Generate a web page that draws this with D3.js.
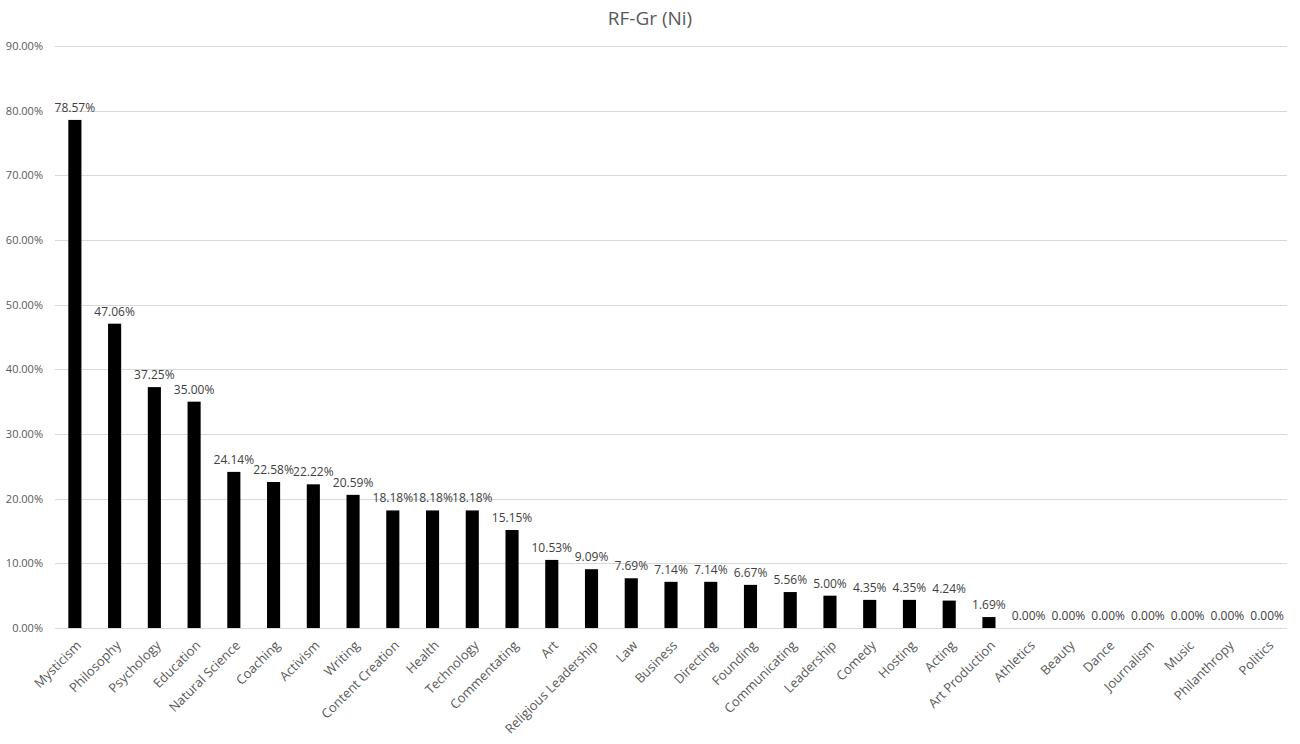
<!DOCTYPE html>
<html>
<head>
<meta charset="utf-8">
<script src="https://cdn.jsdelivr.net/npm/d3@7"></script>
<style>
  body { margin: 0; background: #fff; }
  text { font-family: "Open Sans", "Noto Sans", sans-serif; }
</style>
</head>
<body>
<svg></svg>
<script>
var width = 1300;
var height = 744;

var categories = ["Mysticism", "Philosophy", "Psychology", "Education", "Natural Science",
    "Coaching", "Activism", "Writing", "Content Creation", "Health", "Technology",
    "Commentating", "Art", "Religious Leadership", "Law", "Business", "Directing",
    "Founding", "Communicating", "Leadership", "Comedy", "Hosting", "Acting",
    "Art Production", "Athletics", "Beauty", "Dance", "Journalism", "Music",
    "Philanthropy", "Politics"];
var values = [78.57, 47.06, 37.25, 35.00, 24.14, 22.58, 22.22, 20.59, 18.18, 18.18, 18.18,
    15.15, 10.53, 9.09, 7.69, 7.14, 7.14, 6.67, 5.56, 5.00, 4.35, 4.35, 4.24,
    1.69, 0, 0, 0, 0, 0, 0, 0];
var yTicks = [0, 10, 20, 30, 40, 50, 60, 70, 80, 90];

var margin = { top: 46, right: 13, bottom: 116, left: 55 };

var svg = d3.select('svg')
    .attr('width', width)
    .attr('height', height);

svg.append('text')
    .attr('x', 650)
    .attr('y', 25)
    .attr('text-anchor', 'middle')
    .attr('fill', '#595959')
    .style('font-size', '19px')
    .text('RF-Gr (Ni)');

var x = d3.scaleBand()
    .domain(categories)
    .range([margin.left, width - margin.right])
    .paddingInner(0.67)
    .paddingOuter(0.335);

var y = d3.scaleLinear()
    .domain([0, 90])
    .range([height - margin.bottom, margin.top]);

// gridlines
svg.append('g')
    .selectAll('line')
    .data(yTicks)
    .enter()
    .append('line')
    .attr('x1', margin.left)
    .attr('x2', width - margin.right)
    .attr('y1', function (d) { return Math.round(y(d)) + 0.5; })
    .attr('y2', function (d) { return Math.round(y(d)) + 0.5; })
    .attr('stroke', '#d9d9d9')
    .attr('stroke-width', 1);

// y labels
svg.append('g')
    .selectAll('text')
    .data(yTicks)
    .enter()
    .append('text')
    .attr('x', margin.left - 12)
    .attr('y', function (d) { return y(d); })
    .attr('dy', '0.35em')
    .attr('text-anchor', 'end')
    .attr('fill', '#595959')
    .style('font-size', '11px')
    .text(function (d) { return d.toFixed(2) + '%'; });

// bars
svg.append('g')
    .selectAll('rect')
    .data(values)
    .enter()
    .append('rect')
    .attr('x', function (d, i) { return x(categories[i]); })
    .attr('width', x.bandwidth())
    .attr('y', function (d) { return y(d); })
    .attr('height', function (d) { return y(0) - y(d); })
    .attr('fill', '#000');

// value labels
svg.append('g')
    .selectAll('text')
    .data(values)
    .enter()
    .append('text')
    .attr('x', function (d, i) { return x(categories[i]) + x.bandwidth() / 2; })
    .attr('y', function (d) { return y(d) - 8; })
    .attr('text-anchor', 'middle')
    .attr('fill', '#404040')
    .style('font-size', '12px')
    .text(function (d) { return d.toFixed(2) + '%'; });

// category labels
svg.append('g')
    .selectAll('text')
    .data(categories)
    .enter()
    .append('text')
    .attr('transform', function (d) {
        var cx = x(d) + x.bandwidth() / 2 + 4;
        return 'translate(' + cx + ',' + (y(0) + 15) + ') rotate(-45)';
    })
    .attr('text-anchor', 'end')
    .attr('dy', '0.35em')
    .attr('fill', '#595959')
    .style('font-size', '13px')
    .text(function (d) { return d; });
</script>
</body>
</html>
